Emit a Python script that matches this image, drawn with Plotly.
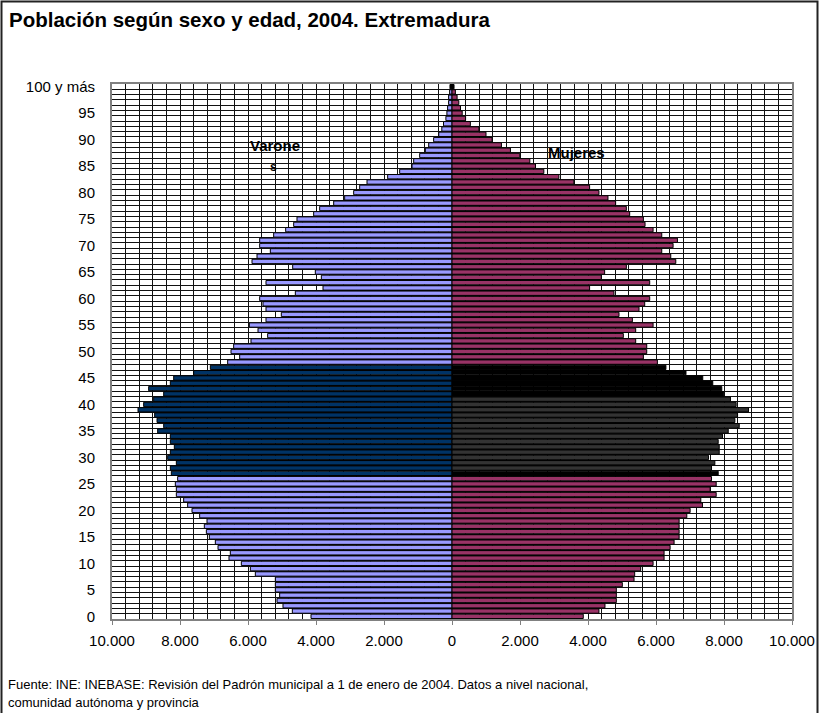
import plotly.graph_objects as go

# ---------------- data ----------------
edades = list(range(0, 101))
etiquetas_edad = [str(a) for a in range(0, 100, 5)] + ["100 y más"]

varones = [
    4147, 4696, 4971, 5147, 5069, 5196, 5196, 5196, 5784, 5931,   # 0-9
    6196, 6559, 6520, 6882, 6961, 7137, 7225, 7284, 7206, 7422,   # 10-19
    7647, 7775, 7892, 8108, 8108, 8137, 8069, 8255, 8284, 8108,   # 20-29
    8363, 8284, 8167, 8284, 8284, 8657, 8480, 8676, 8745, 9235,   # 30-39
    9069, 8775, 8480, 8922, 8284, 8186, 7598, 7108, 6598, 6245,   # 40-49
    6500, 6422, 5912, 5422, 5706, 5961, 5471, 5020, 5471, 5559,   # 50-59
    5657, 4608, 3794, 5471, 3843, 4020, 4686, 5882, 5735, 5343,   # 60-69
    5657, 5657, 5245, 4892, 4657, 4559, 4069, 3892, 3480, 3157,   # 70-79
    2892, 2716, 2500, 1892, 1539, 1176, 1127, 951, 784, 686,      # 80-89
    540, 390, 300, 250, 180, 150, 130, 100, 100, 70,              # 90-99
    60,                                                           # 100 y más
]

mujeres = [
    3861, 4322, 4499, 4833, 4833, 4833, 5010, 5354, 5373, 5550,   # 0-9
    5914, 6238, 6238, 6415, 6532, 6680, 6680, 6680, 6680, 6906,   # 10-19
    7004, 7367, 7318, 7770, 7593, 7770, 7633, 7829, 7633, 7731,   # 20-29
    7544, 7859, 7859, 7829, 7957, 8124, 8448, 8320, 8399, 8720,   # 30-39
    8357, 8190, 7994, 7935, 7670, 7375, 6882, 6292, 6041, 5629,   # 40-49
    5727, 5727, 5403, 5039, 5403, 5914, 5305, 4912, 5501, 5668,   # 50-59
    5815, 4764, 4047, 5815, 4391, 4489, 5128, 6582, 6434, 6169,   # 60-69
    6503, 6631, 6169, 5914, 5678, 5629, 5226, 5128, 4813, 4587,   # 70-79
    4322, 4047, 3585, 3143, 2701, 2456, 2289, 1994, 1719, 1454,   # 80-89
    1180, 1000, 790, 540, 400, 300, 250, 200, 150, 100,           # 90-99
    60,                                                           # 100 y más
]

ticks_x = [-10000, -8000, -6000, -4000, -2000, 0, 2000, 4000, 6000, 8000, 10000]
ticks_x_txt = ["10.000", "8.000", "6.000", "4.000", "2.000", "0",
               "2.000", "4.000", "6.000", "8.000", "10.000"]

# ---------------- styles ----------------
C_V = "#9999FF"
C_V_DARK = "#003366"
C_M = "#993366"
C_M_GRAY = "#333333"
C_BLACK = "#000000"


def color_varon(a):
    if a == 100:
        return C_BLACK
    return C_V_DARK if 27 <= a <= 47 else C_V


def color_mujer(a):
    if 42 <= a <= 47 or a == 27 or a == 100:
        return C_BLACK
    if 28 <= a <= 41:
        return C_M_GRAY
    return C_M


FONT = "Liberation Sans, Arial, sans-serif"

fig = go.Figure()
fig.add_trace(go.Bar(
    y=edades, x=[-v for v in varones], orientation="h",
    marker=dict(color=[color_varon(a) for a in edades],
                line=dict(color="black", width=1)),
    width=0.82, name="Varones", customdata=varones,
    hovertemplate="Edad %{y}: %{customdata}<extra>Varones</extra>",
))
fig.add_trace(go.Bar(
    y=edades, x=mujeres, orientation="h",
    marker=dict(color=[color_mujer(a) for a in edades],
                line=dict(color="black", width=1)),
    width=0.82, name="Mujeres",
    hovertemplate="Edad %{y}: %{x}<extra>Mujeres</extra>",
))

L, R, T, B = 112, 27, 84, 94
W, H = 819, 713
PW, PH = W - L - R, H - T - B


def px(xp):
    return (xp - L) / PW


def py(yp):
    return (H - B - yp) / PH


fig.update_layout(
    width=W, height=H,
    margin=dict(l=L, r=R, t=T, b=B, autoexpand=False),
    paper_bgcolor="white", plot_bgcolor="white",
    barmode="overlay", showlegend=False,
    font=dict(family=FONT, color="black", size=15),
    xaxis=dict(
        range=[-10000, 10000], tickvals=ticks_x, ticktext=ticks_x_txt,
        showgrid=True, gridcolor="#111", gridwidth=1,
        minor=dict(tick0=0, dtick=400, showgrid=True, gridcolor="#111", gridwidth=1),
        zeroline=False, showline=True, linecolor="#808080", linewidth=2, mirror=True,
        ticks="outside", ticklen=4, tickcolor="#808080", tickwidth=1,
        ticklabelstandoff=3, tickfont=dict(size=15),
    ),
    yaxis=dict(
        range=[-0.5, 100.5], tickvals=list(range(0, 101, 5)), ticktext=etiquetas_edad,
        showgrid=False,
        minor=dict(tick0=0.5, dtick=1, showgrid=True, gridcolor="#111", gridwidth=1),
        zeroline=False, showline=True, linecolor="#808080", linewidth=2, mirror=True,
        ticks="", ticklabelstandoff=12, tickfont=dict(size=15),
    ),
    shapes=[dict(type="rect", xref="paper", yref="paper",
                 x0=px(1.5), x1=px(817.5), y0=py(740), y1=py(1.5),
                 line=dict(color="#222", width=2), fillcolor="rgba(0,0,0,0)", layer="above")],
    annotations=[
        dict(text="<b>Población según sexo y edad, 2004. Extremadura</b>",
             xref="paper", yref="paper", x=px(7), y=py(20), xanchor="left", yanchor="middle",
             showarrow=False, font=dict(size=20.5, family=FONT)),
        dict(text="<b>Varone</b>", x=-5200, y=88.8, xref="x", yref="y",
             showarrow=False, font=dict(size=15, family=FONT)),
        dict(text="<b>s</b>", x=-5250, y=84.9, xref="x", yref="y",
             showarrow=False, font=dict(size=12, family=FONT)),
        dict(text="<b>Mujeres</b>", x=3650, y=87.6, xref="x", yref="y",
             showarrow=False, font=dict(size=15, family=FONT)),
        dict(text="Fuente: INE: INEBASE: Revisión del Padrón municipal a 1 de enero de 2004. Datos a nivel nacional,",
             xref="paper", yref="paper", x=px(6), y=py(684), xanchor="left", yanchor="middle",
             showarrow=False, font=dict(size=13, family=FONT)),
        dict(text="comunidad autónoma y provincia",
             xref="paper", yref="paper", x=px(6), y=py(702), xanchor="left", yanchor="middle",
             showarrow=False, font=dict(size=13, family=FONT)),
    ],
)

fig.write_html("out.html", config={"displayModeBar": False},
               post_script="document.body.style.margin='0';document.body.style.padding='0';")
